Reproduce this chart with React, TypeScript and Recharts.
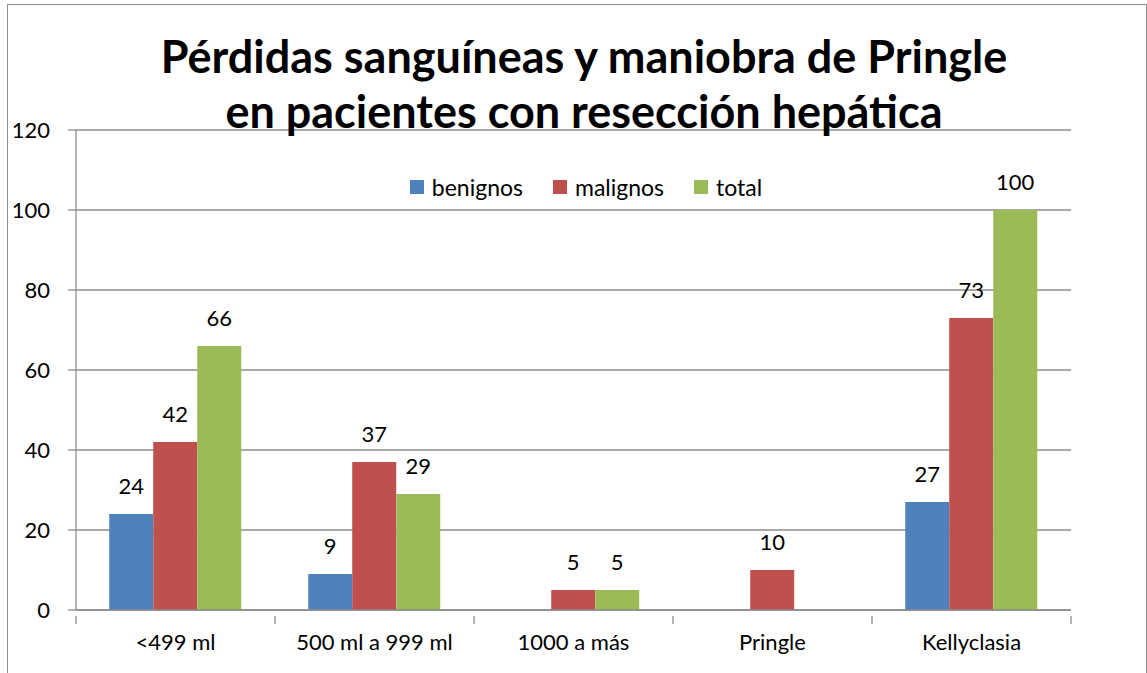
import React from 'react';
import { BarChart, Bar, XAxis, YAxis, CartesianGrid, LabelList } from 'recharts';

const categories = ['<499 ml', '500 ml a 999 ml', '1000 a más', 'Pringle', 'Kellyclasia'];
const benignos = [24, 9, null, null, 27];
const malignos = [42, 37, 5, 10, 73];
const total = [66, 29, 5, null, 100];
const yTicks = [0, 20, 40, 60, 80, 100, 120];

const series = [
  { key: 'benignos', name: 'benignos', color: '#4F81BD' },
  { key: 'malignos', name: 'malignos', color: '#C0504D' },
  { key: 'total', name: 'total', color: '#9BBB59' },
];

const data = categories.map((c, i) => ({
  cat: c,
  benignos: benignos[i],
  malignos: malignos[i],
  total: total[i],
}));

const FONT = 'Lato, "Open Sans", sans-serif';
const GRID = '#8C8C8C';

// category tick: label centred, tick marks on the band edges (Excel style)
function CatTick(props: any) {
  const { x, y, payload, index, visibleTicksCount } = props;
  const half = payload?.offset || 0;
  const last = index === visibleTicksCount - 1;
  return (
    <g>
      <line x1={x - half} x2={x - half} y1={y} y2={y + 8} stroke={GRID} strokeWidth={1.3} />
      {last && <line x1={x + half} x2={x + half} y1={y} y2={y + 8} stroke={GRID} strokeWidth={1.3} />}
      <text x={x} y={y + 34} textAnchor="middle" fontFamily={FONT} fontSize={22} fill="#000">
        {payload.value}
      </text>
    </g>
  );
}

function LegendBox() {
  return (
    <div style={{ display: 'flex', justifyContent: 'center', alignItems: 'center', fontFamily: FONT, fontSize: 23, color: '#000' }}>
      {series.map((s) => (
        <div key={s.key} style={{ display: 'flex', alignItems: 'center', margin: '0 15px' }}>
          <span style={{ width: 14, height: 14, background: s.color, display: 'inline-block', marginRight: 8 }} />
          <span>{s.name}</span>
        </div>
      ))}
    </div>
  );
}

export default function App() {
  return (
    <div style={{ position: 'absolute', left: 0, top: 0, width: 1147, height: 673, background: '#fff', overflow: 'hidden' }}>
      <div style={{ position: 'absolute', left: 7, top: 4, width: 1138, height: 720, border: '1px solid #8C8C8C' }} />
      <div style={{ position: 'absolute', left: 0, top: 0 }}>
        <BarChart
          width={1147}
          height={673}
          data={data}
          margin={{ top: 130, right: 76, bottom: 0, left: 0 }}
          barCategoryGap="16.7%"
          barGap={0}
        >
          <CartesianGrid horizontal vertical={false} stroke={GRID} strokeWidth={1.3} />
          <XAxis
            dataKey="cat"
            axisLine={{ stroke: GRID, strokeWidth: 1.3 }}
            tickLine={false}
            height={63}
            tickMargin={0}
            tick={<CatTick />}
            interval={0}
          />
          <YAxis
            domain={[0, 120]}
            ticks={yTicks}
            width={76}
            tickSize={8}
            tickMargin={18}
            axisLine={{ stroke: GRID, strokeWidth: 1.3 }}
            tickLine={{ stroke: GRID, strokeWidth: 1.3 }}
            tick={{ fontFamily: FONT, fontSize: 22, fill: '#000' }}
          />
          {series.map((s) => (
            <Bar key={s.key} dataKey={s.key} name={s.name} fill={s.color} isAnimationActive={false}>
              <LabelList dataKey={s.key} position="top" offset={20} style={{ fontFamily: FONT, fontSize: 22, fill: '#000' }} />
            </Bar>
          ))}
        </BarChart>
      </div>
      <div style={{ position: 'absolute', left: 0, top: 173, width: 1172 }}>
        <LegendBox />
      </div>
      <div
        style={{
          position: 'absolute', left: 0, top: 29, width: 1168, textAlign: 'center',
          fontFamily: FONT, fontWeight: 700, fontSize: 45, lineHeight: '55px', color: '#000',
        }}
      >
        Pérdidas sanguíneas y maniobra de Pringle
        <br />
        en pacientes con resección hepática
      </div>
    </div>
  );
}
